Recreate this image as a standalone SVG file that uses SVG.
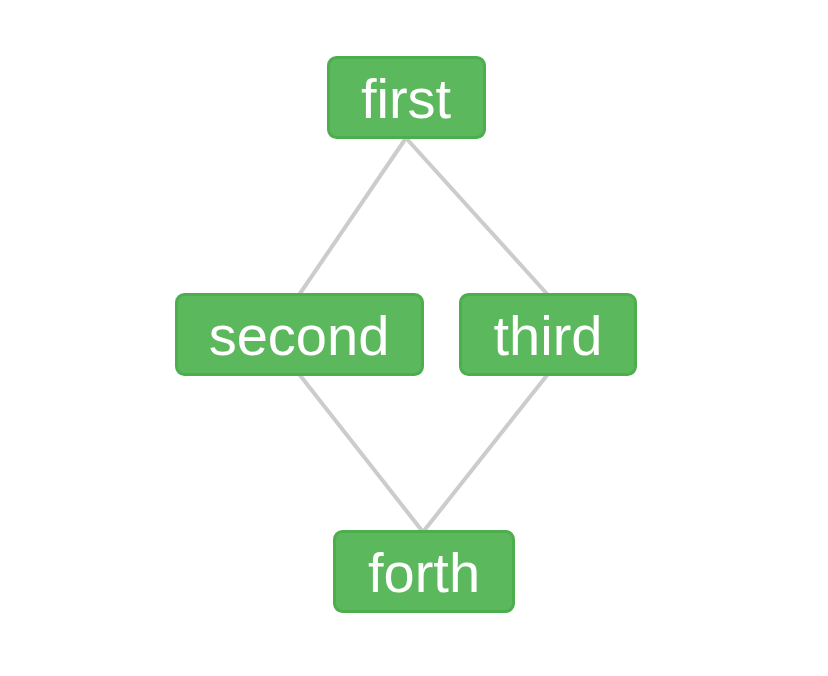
<svg xmlns="http://www.w3.org/2000/svg" width="828" height="676" viewBox="0 0 828 676">
<style>
.edge{stroke:#cccccc;stroke-width:4;fill:none}
.box{fill:#5cb85c;stroke:#4cae4c;stroke-width:3}
.lbl{fill:#ffffff;font-family:"Liberation Sans",Arial,sans-serif;font-size:56px;text-anchor:middle}
</style>
<rect width="828" height="676" fill="#ffffff"/>
<g id="connectors">
<line class="edge" x1="406" y1="138" x2="299" y2="295"/>
<line class="edge" x1="406" y1="138" x2="548" y2="295"/>
<line class="edge" x1="299" y1="374" x2="423" y2="532"/>
<line class="edge" x1="548" y1="374" x2="423" y2="532"/>
</g>
<g id="first"><rect class="box" x="328.5" y="57.5" width="156" height="80" rx="8"/><text class="lbl" x="406" y="118">first</text></g>
<g id="second"><rect class="box" x="176.5" y="294.5" width="246" height="80" rx="8"/><text class="lbl" x="299" y="355">second</text></g>
<g id="third"><rect class="box" x="460.5" y="294.5" width="175" height="80" rx="8"/><text class="lbl" x="548" y="355">third</text></g>
<g id="forth"><rect class="box" x="334.5" y="531.5" width="179" height="80" rx="8"/><text class="lbl" x="424" y="592">forth</text></g>
</svg>
